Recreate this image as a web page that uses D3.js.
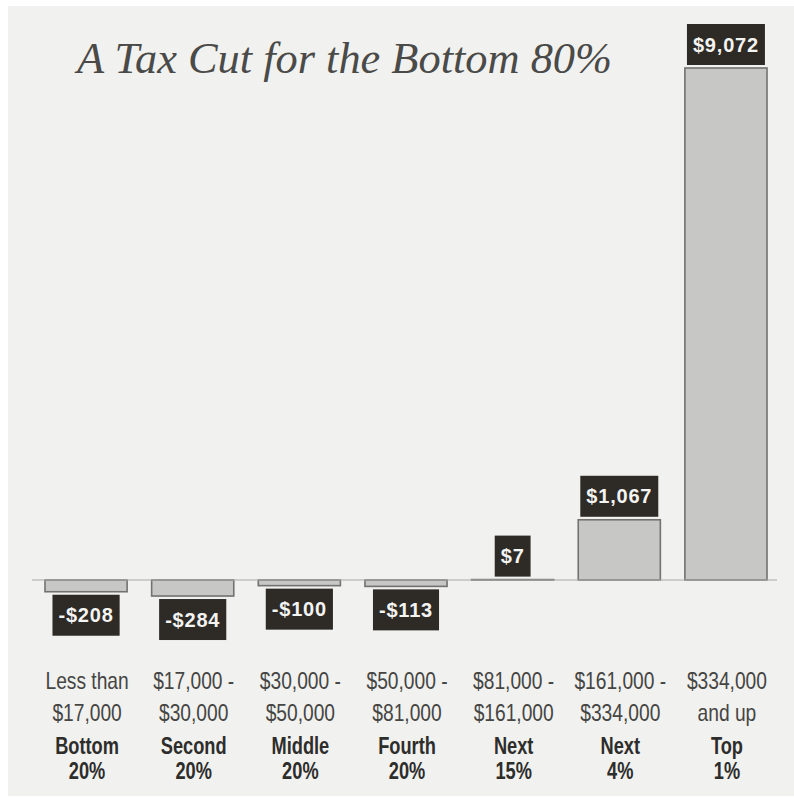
<!DOCTYPE html>
<html>
<head>
<meta charset="utf-8">
<script src="https://cdn.jsdelivr.net/npm/d3@7"></script>
<style>
  html, body { margin: 0; padding: 0; background: #ffffff; }
  svg { display: block; }
</style>
</head>
<body>
<div id="chart"></div>
<script>
// ---- data ----
const categories = ["Bottom 20%", "Second 20%", "Middle 20%", "Fourth 20%", "Next 15%", "Next 4%", "Top 1%"];
const values = [-208, -284, -100, -113, 7, 1067, 9072];
const valueLabels = ["-$208", "-$284", "-$100", "-$113", "$7", "$1,067", "$9,072"];
const incomeLine1 = ["Less than", "$17,000 -", "$30,000 -", "$50,000 -", "$81,000 -", "$161,000 -", "$334,000"];
const incomeLine2 = ["$17,000", "$30,000", "$50,000", "$81,000", "$161,000", "$334,000", "and up"];
const groupLine1 = ["Bottom", "Second", "Middle", "Fourth", "Next", "Next", "Top"];
const groupLine2 = ["20%", "20%", "20%", "20%", "15%", "4%", "1%"];
const title = "A Tax Cut for the Bottom 80%";

// ---- layout ----
const W = 794, H = 801;
const svg = d3.select("#chart").append("svg").attr("width", W).attr("height", H);

// paper background (scan area)
svg.append("rect").attr("x", 8).attr("y", 6).attr("width", W - 8).attr("height", 790)
  .attr("fill", "#f1f1ef");

const x = d3.scaleBand().domain(categories).range([45, 767]).paddingInner(0.23).paddingOuter(0);
const y = d3.scaleLinear().domain([0, 9072]).range([580, 68]);

// title
svg.append("text")
  .attr("x", 77).attr("y", 73)
  .attr("font-family", "'Liberation Serif', 'DejaVu Serif', serif")
  .attr("font-style", "italic")
  .attr("font-size", 44)
  .attr("fill", "#4a4a48")
  .attr("textLength", 535).attr("lengthAdjust", "spacingAndGlyphs")
  .text(title);

// bars
svg.append("g").selectAll("rect").data(values).join("rect")
  .attr("x", (d, i) => x(categories[i]))
  .attr("width", x.bandwidth())
  .attr("y", d => Math.min(y(d), y(0)))
  .attr("height", d => Math.abs(y(d) - y(0)))
  .attr("fill", "#c7c7c5")
  .attr("stroke", "#727270")
  .attr("stroke-width", 1.6);

// baseline
svg.append("line")
  .attr("x1", 32).attr("x2", 777)
  .attr("y1", y(0)).attr("y2", y(0))
  .attr("stroke", "#a9a9a7").attr("stroke-width", 1.2);

// value label boxes
const boxH = 41;
const lbl = svg.append("g").selectAll("g").data(values).join("g");
lbl.each(function(d, i) {
  const g = d3.select(this);
  const cx = x(categories[i]) + x.bandwidth() / 2;
  const text = g.append("text")
    .attr("font-family", "'Liberation Sans', Arial, sans-serif")
    .attr("font-weight", "bold")
    .attr("font-size", 20)
    .attr("letter-spacing", 0.8)
    .attr("fill", "#f4f4f2")
    .attr("text-anchor", "middle")
    .text(valueLabels[i]);
  const tw = text.node().getComputedTextLength();
  const bw = tw + 12;
  const top = d >= 0 ? Math.min(y(d), y(0)) - 3 - boxH : Math.max(y(d), y(0)) + 3;
  g.insert("rect", "text")
    .attr("x", cx - bw / 2).attr("y", top)
    .attr("width", bw).attr("height", boxH)
    .attr("fill", "#2e2b27");
  text.attr("x", cx).attr("y", top + boxH / 2 + 7);
});

// category labels (condensed look via horizontal scaling)
const labelFont = "'Liberation Sans', Arial, sans-serif";
const rows = [
  { arr: incomeLine1, y: 689, bold: false },
  { arr: incomeLine2, y: 721, bold: false },
  { arr: groupLine1, y: 754, bold: true },
  { arr: groupLine2, y: 779, bold: true }
];
rows.forEach(r => {
  svg.append("g").selectAll("text").data(r.arr).join("text")
    .attr("transform", (d, i) =>
      `translate(${x(categories[i]) + x.bandwidth() / 2 + 1},${r.y}) scale(${r.bold ? 0.76 : 0.8},1)`)
    .attr("text-anchor", "middle")
    .attr("font-family", labelFont)
    .attr("font-size", r.bold ? 24 : 24)
    .attr("font-weight", r.bold ? "bold" : "normal")
    .attr("fill", r.bold ? "#2d2d2b" : "#454543")
    .text(d => d);
});
</script>
</body>
</html>
